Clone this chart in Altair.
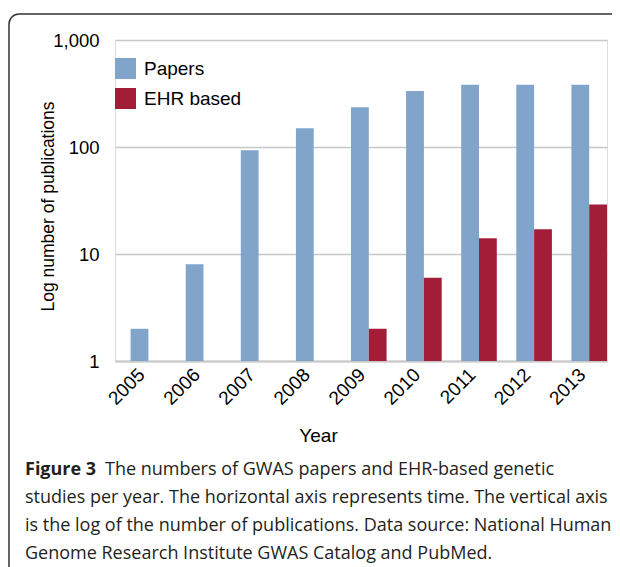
import altair as alt
import pandas as pd

years = ["2005", "2006", "2007", "2008", "2009", "2010", "2011", "2012", "2013"]
papers = [2, 8, 93, 150, 235, 334, 381, 381, 381]
ehr = [None, None, None, None, 2, 6, 14, 17, 29]
series = ["Papers", "EHR based"]
colors = ["#80A4CA", "#A31C38"]
y_ticks = [1, 10, 100, 1000]
caption_bold = "Figure 3"
caption_lines = [
    "The numbers of GWAS papers and EHR-based genetic",
    "studies per year. The horizontal axis represents time. The vertical axis",
    "is the log of the number of publications. Data source: National Human",
    "Genome Research Institute GWAS Catalog and PubMed.",
]

rows = []
for i, yr in enumerate(years):
    for s, vals in zip(series, [papers, ehr]):
        if vals[i] is not None:
            rows.append({"year": yr, "series": s, "value": vals[i], "base": y_ticks[0]})
df = pd.DataFrame(rows)

W, H = 492, 321
FONT = "Liberation Sans"
CAP_FONT = "Open Sans"

bars = alt.Chart(df).mark_bar().encode(
    x=alt.X("year:N", sort=years,
            scale=alt.Scale(paddingInner=0.354, paddingOuter=0.1416, align=1),
            axis=alt.Axis(title="Year", labelAngle=-45, labelFont=FONT, labelFontSize=19,
                          labelColor="#000", ticks=False, domain=True, domainColor="#c8c8c8",
                          domainWidth=2, labelPadding=4, labelOffset=-13,
                          titleFont=FONT, titleFontSize=19,
                          titleFontWeight="normal", titleColor="#000", titleX=203, titleY=74,
                          titleBaseline="middle")),
    xOffset=alt.XOffset("series:N", sort=series,
                        scale=alt.Scale(domain=series, paddingInner=0, paddingOuter=0)),
    y=alt.Y("value:Q",
            scale=alt.Scale(type="log", domain=[1, 1000]),
            axis=alt.Axis(values=y_ticks, format=",", grid=True, gridColor="#c8c8c8",
                          gridWidth=1.5, ticks=False, domain=False, labelFont=FONT,
                          labelFontSize=18.5, labelColor="#000", labelPadding=16,
                          title="Log number of publications", titleFont=FONT,
                          titleFontSize=17.5, titleFontWeight="normal", titleColor="#000",
                          titleX=-62, titleY=166, titleBaseline="alphabetic")),
    y2=alt.Y2("base:Q"),
    color=alt.Color("series:N", sort=series,
                    scale=alt.Scale(domain=series, range=colors),
                    legend=alt.Legend(title=None, orient="none", legendX=0, legendY=18,
                                      symbolType="square", symbolSize=441,
                                      symbolStrokeWidth=0, symbolOpacity=1,
                                      labelFont=FONT, labelFontSize=19, labelColor="#000",
                                      labelOffset=8, rowPadding=9, padding=0)),
)

frame_df = pd.DataFrame({"k": [0]})
frame = alt.Chart(frame_df).mark_rect(
    fill=None, stroke="#333333", strokeWidth=1.5, cornerRadius=10
).encode(
    x=alt.value(-106), x2=alt.value(530), y=alt.value(-26), y2=alt.value(560)
)

bold_df = pd.DataFrame({"t": [caption_bold]})
bold = alt.Chart(bold_df).mark_text(
    font=CAP_FONT, fontSize=18, fontWeight="bold", align="left", baseline="alphabetic",
    color="#231f20"
).encode(text="t:N", x=alt.value(-90), y=alt.value(435))

cap_layers = []
for i, line in enumerate(caption_lines):
    xpos = -10 if i == 0 else -90
    d = pd.DataFrame({"t": [line]})
    cap_layers.append(
        alt.Chart(d).mark_text(
            font=CAP_FONT, fontSize=18, align="left", baseline="alphabetic", color="#231f20"
        ).encode(text="t:N", x=alt.value(xpos), y=alt.value(435 + 28 * i))
    )

chart = alt.layer(frame, bars, bold, *cap_layers).properties(
    width=W, height=H,
    autosize=alt.AutoSizeParams(type="none"),
    padding={"left": 107, "top": 32, "right": 5, "bottom": 206},
).configure_view(stroke=None).configure(background="white")

chart.save("out.html", embed_options={"renderer": "svg", "actions": False})
